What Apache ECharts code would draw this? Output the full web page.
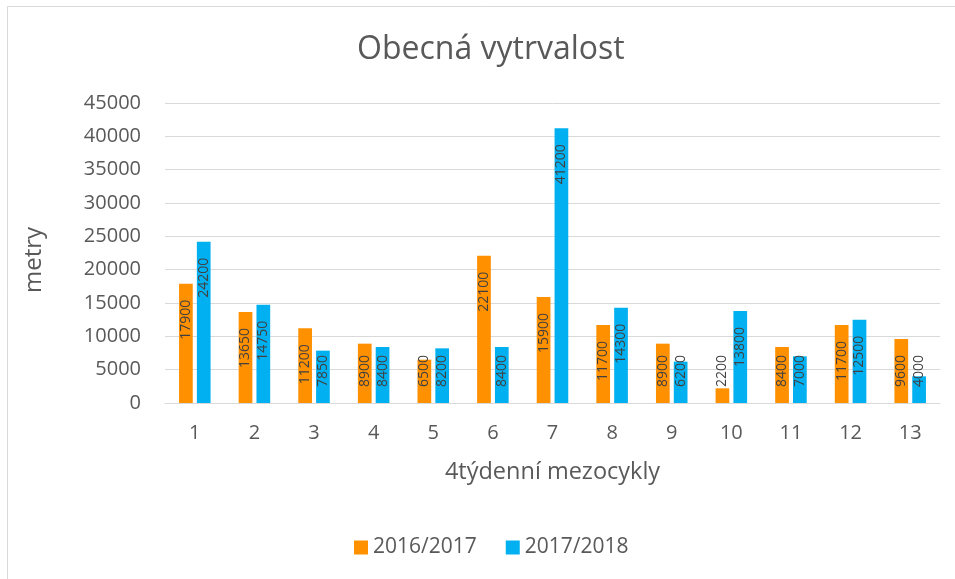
<!DOCTYPE html>
<html>
<head>
<meta charset="utf-8">
<script src="https://cdn.jsdelivr.net/npm/echarts@6/dist/echarts.min.js"></script>
<style>
  html, body { margin: 0; padding: 0; background: #fff; }
  #chart { width: 955px; height: 579px; }
</style>
</head>
<body>
<div id="chart"></div>
<script>
const categories = ['1', '2', '3', '4', '5', '6', '7', '8', '9', '10', '11', '12', '13'];
const season1 = [17900, 13650, 11200, 8900, 6500, 22100, 15900, 11700, 8900, 2200, 8400, 11700, 9600];
const season2 = [24200, 14750, 7850, 8400, 8200, 8400, 41200, 14300, 6200, 13800, 7000, 12500, 4000];
const seriesNames = ['2016/2017', '2017/2018'];

const chart = echarts.init(document.getElementById('chart'));
const font = '"Open Sans", sans-serif';

// short bars: label sits at the base instead of hanging from the top
function withLabels(values) {
    return values.map(function (v) {
        if (v < 10000) {
            return {
                value: v,
                label: { position: 'insideBottom', align: 'left', distance: 16 }
            };
        }
        return v;
    });
}

const labelStyle = {
    show: true,
    position: 'insideTop',
    rotate: 90,
    align: 'right',
    verticalAlign: 'middle',
    distance: 16,
    fontSize: 14,
    fontFamily: font,
    color: '#404040'
};

let option = {
    backgroundColor: '#fff',
    textStyle: { fontFamily: font },
    graphic: [{
        type: 'rect',
        shape: { x: 7.5, y: 6.5, width: 1000, height: 1000 },
        style: { fill: 'none', stroke: '#d9d9d9', lineWidth: 1 },
        silent: true
    }],
    title: {
        text: 'Obecná vytrvalost',
        left: 352,
        top: 29,
        textStyle: { fontSize: 32, fontWeight: 'normal', color: '#595959', fontFamily: font }
    },
    legend: {
        data: seriesNames,
        left: 349,
        top: 532,
        itemWidth: 14,
        itemHeight: 14,
        itemGap: 29,
        icon: 'rect',
        textStyle: { fontSize: 21, color: '#595959', fontFamily: font }
    },
    grid: { left: 165, right: 15, top: 103, bottom: 176 },
    xAxis: {
        type: 'category',
        data: categories,
        axisLine: { lineStyle: { color: '#d9d9d9', width: 1 } },
        axisTick: { show: false },
        axisLabel: { fontSize: 20, color: '#595959', margin: 20, fontFamily: font },
        name: '4týdenní mezocykly',
        nameLocation: 'middle',
        nameGap: 57,
        nameTextStyle: { fontSize: 23.5, color: '#595959', fontFamily: font }
    },
    yAxis: {
        type: 'value',
        min: 0,
        max: 45000,
        interval: 5000,
        axisLine: { show: false },
        axisTick: { show: false },
        splitLine: { lineStyle: { color: '#d9d9d9', width: 1 } },
        axisLabel: {
            fontSize: 20,
            color: '#595959',
            margin: 24,
            fontFamily: font,
            formatter: function (v) { return String(v); }
        },
        name: 'metry',
        nameLocation: 'middle',
        nameRotate: 90,
        nameGap: 119,
        nameTextStyle: { fontSize: 24, color: '#595959', fontFamily: font, padding: [0, 14, 0, 0] }
    },
    series: [
        {
            name: seriesNames[0],
            type: 'bar',
            data: withLabels(season1),
            barWidth: '23%',
            barGap: '30%',
            itemStyle: { color: '#ff9000' },
            label: labelStyle
        },
        {
            name: seriesNames[1],
            type: 'bar',
            data: withLabels(season2),
            barWidth: '23%',
            barGap: '30%',
            itemStyle: { color: '#00b0f0' },
            label: labelStyle
        }
    ]
};

chart.setOption(option);
</script>
</body>
</html>
